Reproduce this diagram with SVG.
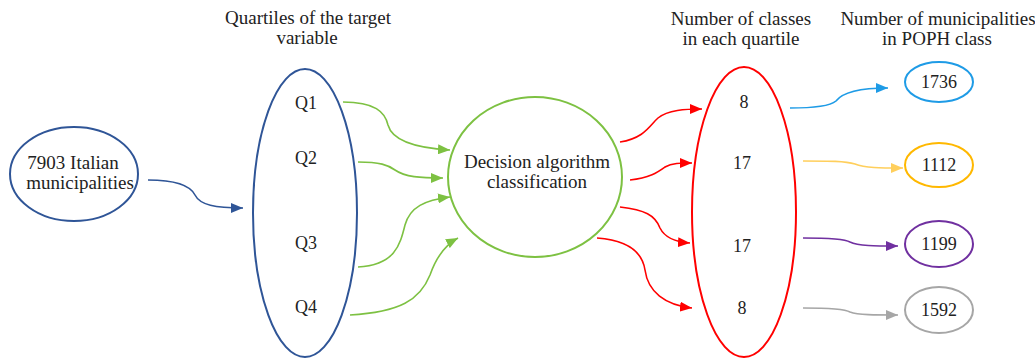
<svg xmlns="http://www.w3.org/2000/svg" width="1035" height="361" viewBox="0 0 1035 361">
  <style>
    text { font-family: "Liberation Serif", "DejaVu Serif", serif; fill: #222; text-anchor: middle; }
    .hdr { font-size: 19px; }
    .lbl { font-size: 19px; }
    .num { font-size: 18px; }
    .node { fill: #fff; stroke-width: 2; }
    .link { fill: none; stroke-width: 1.6; }
  </style>
  <defs>
    <marker id="ah-navy" viewBox="0 0 12 10" refX="12" refY="5" markerWidth="12" markerHeight="10" markerUnits="userSpaceOnUse" orient="auto"><path d="M0,0 L12,5 L0,10 z" fill="#2F5597"/></marker>
    <marker id="ah-green" viewBox="0 0 12 10" refX="12" refY="5" markerWidth="12" markerHeight="10" markerUnits="userSpaceOnUse" orient="auto"><path d="M0,0 L12,5 L0,10 z" fill="#7DC142"/></marker>
    <marker id="ah-red" viewBox="0 0 12 10" refX="12" refY="5" markerWidth="12" markerHeight="10" markerUnits="userSpaceOnUse" orient="auto"><path d="M0,0 L12,5 L0,10 z" fill="#FF0000"/></marker>
    <marker id="ah-sky" viewBox="0 0 12 10" refX="12" refY="5" markerWidth="12" markerHeight="10" markerUnits="userSpaceOnUse" orient="auto"><path d="M0,0 L12,5 L0,10 z" fill="#1E9BE6"/></marker>
    <marker id="ah-gold" viewBox="0 0 12 10" refX="12" refY="5" markerWidth="12" markerHeight="10" markerUnits="userSpaceOnUse" orient="auto"><path d="M0,0 L12,5 L0,10 z" fill="#FFCF5C"/></marker>
    <marker id="ah-purple" viewBox="0 0 12 10" refX="12" refY="5" markerWidth="12" markerHeight="10" markerUnits="userSpaceOnUse" orient="auto"><path d="M0,0 L12,5 L0,10 z" fill="#7030A0"/></marker>
    <marker id="ah-grey" viewBox="0 0 12 10" refX="12" refY="5" markerWidth="12" markerHeight="10" markerUnits="userSpaceOnUse" orient="auto"><path d="M0,0 L12,5 L0,10 z" fill="#A6A6A6"/></marker>
  </defs>

  <rect width="1035" height="361" fill="#fff"/>

  <!-- column headings -->
  <g id="headings">
    <text class="hdr" x="308" y="24">Quartiles of the target</text>
    <text class="hdr" x="307" y="44">variable</text>
    <text class="hdr" x="741" y="25">Number of classes</text>
    <text class="hdr" x="741" y="45">in each quartile</text>
    <text class="hdr" x="938" y="25">Number of municipalities</text>
    <text class="hdr" x="937" y="45">in POPH class</text>
  </g>

  <!-- connectors -->
  <g id="connectors">
    <path class="link" stroke="#2F5597" marker-end="url(#ah-navy)" d="M148,180 C175,180 190,185 195,195 C200,205 215,208 243,208"/>

    <path class="link" stroke="#7DC142" marker-end="url(#ah-green)" d="M343,102 C375,102 385,112 388,125 C392,140 415,148 450,150"/>
    <path class="link" stroke="#7DC142" marker-end="url(#ah-green)" d="M358,162 C380,162 388,165 395,170 C405,177 420,178 443,178"/>
    <path class="link" stroke="#7DC142" marker-end="url(#ah-green)" d="M358,267 C395,265 400,245 405,225 C410,207 425,200 450,197"/>
    <path class="link" stroke="#7DC142" marker-end="url(#ah-green)" d="M350,315 C400,312 420,300 430,275 C436,258 445,245 458,238"/>

    <path class="link" stroke="#FF0000" marker-end="url(#ah-red)" d="M620,142 C645,138 650,125 658,118 C668,110 685,109 702,109"/>
    <path class="link" stroke="#FF0000" marker-end="url(#ah-red)" d="M630,180 C650,178 658,172 665,167 C672,163 680,163 692,163"/>
    <path class="link" stroke="#FF0000" marker-end="url(#ah-red)" d="M620,207 C645,210 655,215 660,228 C665,238 675,242 690,243"/>
    <path class="link" stroke="#FF0000" marker-end="url(#ah-red)" d="M597,238 C625,240 642,250 645,270 C648,292 665,305 692,308"/>

    <path class="link" stroke="#1E9BE6" marker-end="url(#ah-sky)" d="M790,108 C815,108 830,106 836,101 C842,93 860,88 888,88"/>
    <path class="link" stroke="#FFCF5C" marker-end="url(#ah-gold)" d="M803,161 C830,161 845,161 855,164 C865,168 880,168 903,168"/>
    <path class="link" stroke="#7030A0" marker-end="url(#ah-purple)" d="M803,238 C830,238 845,239 850,242 C858,246 875,246 898,246"/>
    <path class="link" stroke="#A6A6A6" marker-end="url(#ah-grey)" d="M803,308 C830,308 845,309 850,312 C858,315 875,315 898,315"/>
  </g>

  <g id="municipalities">
    <ellipse class="node" cx="74" cy="174" rx="64" ry="47" stroke="#2F5597"/>
    <text class="lbl" x="73" y="169">7903 Italian</text>
    <text class="lbl" x="80" y="189">municipalities</text>
  </g>

  <g id="quartiles">
    <ellipse class="node" cx="305" cy="213" rx="52" ry="144" stroke="#2F5597" fill="none"/>
    <text class="num" x="306" y="109">Q1</text>
    <text class="num" x="306" y="164">Q2</text>
    <text class="num" x="306" y="249">Q3</text>
    <text class="num" x="306" y="313">Q4</text>
  </g>

  <g id="classifier">
    <ellipse class="node" cx="535" cy="177" rx="87" ry="80" stroke="#7DC142"/>
    <text class="lbl" x="537" y="168">Decision algorithm</text>
    <text class="lbl" x="537" y="188">classification</text>
  </g>

  <g id="classes">
    <ellipse class="node" cx="744" cy="212" rx="52" ry="145" stroke="#FF0000" fill="none"/>
    <text class="num" x="744" y="108">8</text>
    <text class="num" x="742" y="169">17</text>
    <text class="num" x="742" y="252">17</text>
    <text class="num" x="742" y="314">8</text>
  </g>

  <g id="poph-1736">
    <ellipse class="node" cx="939" cy="82" rx="34" ry="20" stroke="#1E9BE6"/>
    <text class="num" x="939" y="88">1736</text>
  </g>
  <g id="poph-1112">
    <ellipse class="node" cx="939" cy="165" rx="34" ry="22" stroke="#FFB800"/>
    <text class="num" x="939" y="171">1112</text>
  </g>
  <g id="poph-1199">
    <ellipse class="node" cx="939" cy="244" rx="34" ry="23" stroke="#7030A0"/>
    <text class="num" x="939" y="250">1199</text>
  </g>
  <g id="poph-1592">
    <ellipse class="node" cx="939" cy="310" rx="34" ry="23" stroke="#A6A6A6"/>
    <text class="num" x="939" y="316">1592</text>
  </g>
</svg>
